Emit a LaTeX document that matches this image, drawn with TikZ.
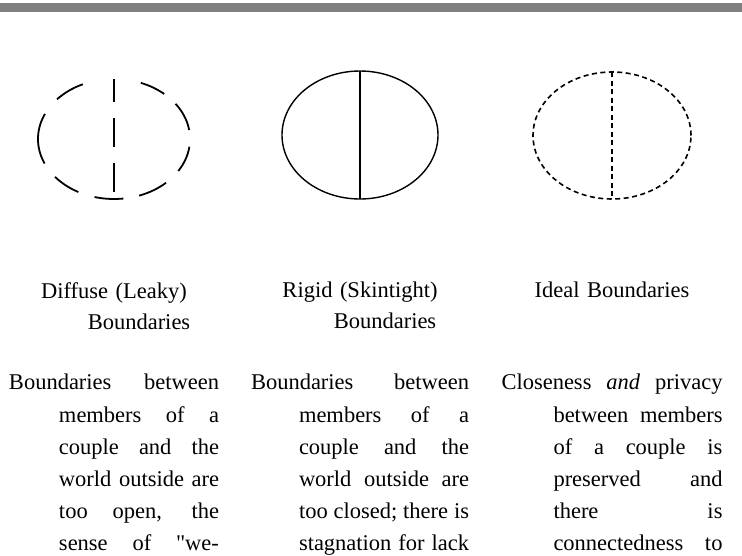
\documentclass[tikz,border=0pt]{standalone}
\usepackage{fontspec}
\setmainfont{Liberation Serif}
\newfontfamily\plainquote{Liberation Serif}
\usepackage{tikz}
\usetikzlibrary{positioning, shapes.geometric}
\definecolor{bargray}{RGB}{128,128,128}
\newcommand{\hangby}[1]{\hangindent=#1\hangafter=1\tolerance=10000\hyphenpenalty=10000\hbadness=10000\relax}

\begin{document}
\begin{tikzpicture}[
    x=1pt, y=-1pt,
    ring/.style={
        ellipse, draw=black,
        inner sep=0pt, outer sep=0pt
    },
    head/.style={
        text width=#1, align=center, inner sep=0pt,
        font=\fontsize{22.5}{31}\selectfont
    },
    body/.style={
        text width=#1, align=justify, inner sep=0pt,
        font=\fontsize{22.5}{32.2}\selectfont
    },
]
\useasboundingbox (0,0) rectangle (742,555);
\clip (0,0) rectangle (742,555);
\fill[white] (0,0) rectangle (742,555);

% Top bar
\fill[bargray] (0,3) rectangle (742,12);

% Rings
\node[ring, minimum width=152pt, minimum height=120pt, line width=1.8pt,
      dash pattern=on 30pt off 15pt on 26pt off 59pt on 30pt off 19pt on 52pt off 17pt
                   on 28pt off 17pt on 29pt off 16pt on 30pt off 17pt on 27pt off 17pt,
      dash phase=420pt] (diffuse) at (114,139) {};
\node[ring, minimum width=156pt, minimum height=128pt, line width=1.4pt] (rigid) at (360,135) {};
\node[ring, minimum width=158pt, minimum height=127pt, line width=1.6pt,
      dash pattern=on 5pt off 3.5pt] (ideal) at (612,135.5) {};

% Dividers
\draw[line width=1.8pt, dash pattern=on 23pt off 16pt on 29pt off 16pt on 29pt off 20pt]
    (diffuse.north) -- (diffuse.south);
\draw[line width=1.4pt] (rigid.north) -- (rigid.south);
\draw[line width=1.6pt, dash pattern=on 5pt off 3.5pt] (ideal.north) -- (ideal.south);

% Headings
\node[head=210pt, below=83pt of diffuse] (diffusehead)
    {\hangby{50pt}Diffuse (Leaky)\linebreak Boundaries\par};
\node[head=218pt, below=83pt of rigid] (rigidhead)
    {\hangby{50pt}Rigid (Skintight)\linebreak Boundaries\par};
\node[head=221pt, below=83pt of ideal] (idealhead)
    {\hangby{50pt}Ideal Boundaries\par};

% Descriptions
\node[body=210pt, below=175pt of diffuse] (diffusetext)
    {\hangby{50pt}\parfillskip=0pt Boundaries between\linebreak members of a\linebreak
     couple and the\linebreak world outside are\linebreak too open, the\linebreak
     sense of {\plainquote"}we-\par};
\node[body=218pt, below=175pt of rigid] (rigidtext)
    {\hangby{48pt}\parfillskip=0pt Boundaries between\linebreak members of a\linebreak
     couple and the\linebreak world outside are\linebreak too closed; there is\linebreak
     stagnation for lack\par};
\node[body=221pt, below=175pt of ideal] (idealtext)
    {\hangby{52pt}\parfillskip=0pt Closeness \emph{and} privacy\linebreak between members\linebreak
     of a couple is\linebreak preserved and\linebreak there is\linebreak
     connectedness to\par};

\end{tikzpicture}
\end{document}
